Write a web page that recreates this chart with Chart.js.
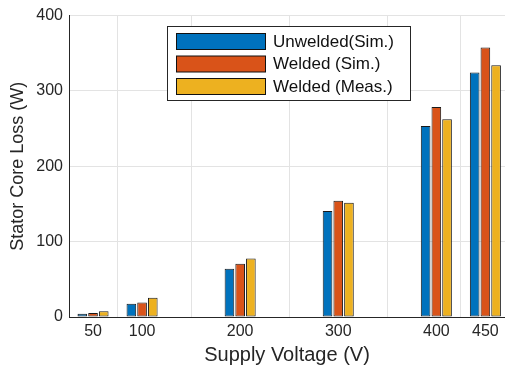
<!DOCTYPE html>
<html>
<head>
<meta charset="utf-8">
<script src="https://cdn.jsdelivr.net/npm/chart.js@4"></script>
<style>
  body { margin: 0; background: #fff; }
  #box { width: 505px; height: 368px; }
</style>
</head>
<body>
<div id="box"><canvas id="myChart" width="505" height="368"></canvas></div>
<script>
// supply voltages (V)
var voltages = [50, 100, 200, 300, 400, 450];
// stator core loss (W)
var unweldedSim = [4.4, 17.6, 64.2, 140.7, 253.6, 324.4];
var weldedSim = [5.3, 19.3, 70.8, 154.3, 278.7, 357.8];
var weldedMeas = [7.5, 25.5, 77.8, 151.6, 262.4, 334.1];
var yTicks = [0, 100, 200, 300, 400];

var seriesNames = ['Unwelded(Sim.)', 'Welded (Sim.)', 'Welded (Meas.)'];
var seriesColors = ['#0072BD', '#D95319', '#EDB120'];
var seriesValues = [unweldedSim, weldedSim, weldedMeas];

var FONT = '"Liberation Sans", Arial, Helvetica, sans-serif';
var TXT = '#262626';

function pts(vals) {
    return voltages.map(function (v, i) { return { x: v, y: vals[i] }; });
}

var datasets = seriesNames.map(function (name, k) {
    return {
        label: name,
        data: pts(seriesValues[k]),
        backgroundColor: seriesColors[k],
        borderColor: '#1a1a1a',
        borderWidth: 1,
        borderSkipped: false,
        categoryPercentage: 0.655,
        barPercentage: 0.9
    };
});

// legend box drawn inside the plot, like the figure
var boxLegend = {
    id: 'boxLegend',
    afterDraw: function (chart) {
        var c = chart.ctx;
        c.save();
        c.fillStyle = '#fff';
        c.fillRect(167, 26.5, 243, 74);
        c.strokeStyle = TXT;
        c.lineWidth = 1;
        c.strokeRect(167.5, 26.5, 243, 74);
        c.font = '17px ' + FONT;
        c.textBaseline = 'middle';
        chart.data.datasets.forEach(function (ds, i) {
            var y = 33.5 + i * 22.5;
            c.fillStyle = ds.backgroundColor;
            c.fillRect(176.5, y, 89, 16);
            c.strokeStyle = '#111';
            c.strokeRect(176.5, y, 89, 16);
            c.fillStyle = '#111';
            c.fillText(ds.label, 273, y + 8.5);
        });
        c.restore();
    }
};

var config = {
    type: 'bar',
    data: { datasets: datasets },
    options: {
        responsive: false,
        animation: false,
        layout: { padding: { left: 0, right: 0, top: 13, bottom: 0 } },
        plugins: {
            legend: { display: false },
            tooltip: { enabled: false }
        },
        scales: {
            x: {
                type: 'linear',
                min: 25.5,
                max: 470,
                offset: false,
                grid: { color: '#e3e3e3', drawTicks: false },
                border: { color: TXT, width: 1 },
                afterBuildTicks: function (s) {
                    s.ticks = voltages.map(function (v) { return { value: v }; });
                },
                afterFit: function (s) { s.height = 51; },
                ticks: {
                    color: TXT,
                    padding: 5,
                    maxRotation: 0,
                    font: { family: FONT, size: 16 }
                },
                title: {
                    display: true,
                    text: 'Supply Voltage (V)',
                    color: TXT,
                    padding: { top: 0, bottom: 1 },
                    font: { family: FONT, size: 20 }
                }
            },
            y: {
                min: 0,
                max: 400,
                grid: { color: '#e3e3e3', drawTicks: false },
                border: { color: TXT, width: 1 },
                afterBuildTicks: function (s) {
                    s.ticks = yTicks.map(function (v) { return { value: v }; });
                },
                afterFit: function (s) { s.width = 69; },
                ticks: {
                    color: TXT,
                    padding: 6,
                    font: { family: FONT, size: 16 }
                },
                title: {
                    display: true,
                    text: 'Stator Core Loss (W)',
                    color: TXT,
                    padding: { top: 7, bottom: 0 },
                    font: { family: FONT, size: 18 }
                }
            }
        }
    },
    plugins: [boxLegend]
};

const ctx = document.getElementById('myChart').getContext('2d');
const myChart = new Chart(ctx, config);
</script>
</body>
</html>
